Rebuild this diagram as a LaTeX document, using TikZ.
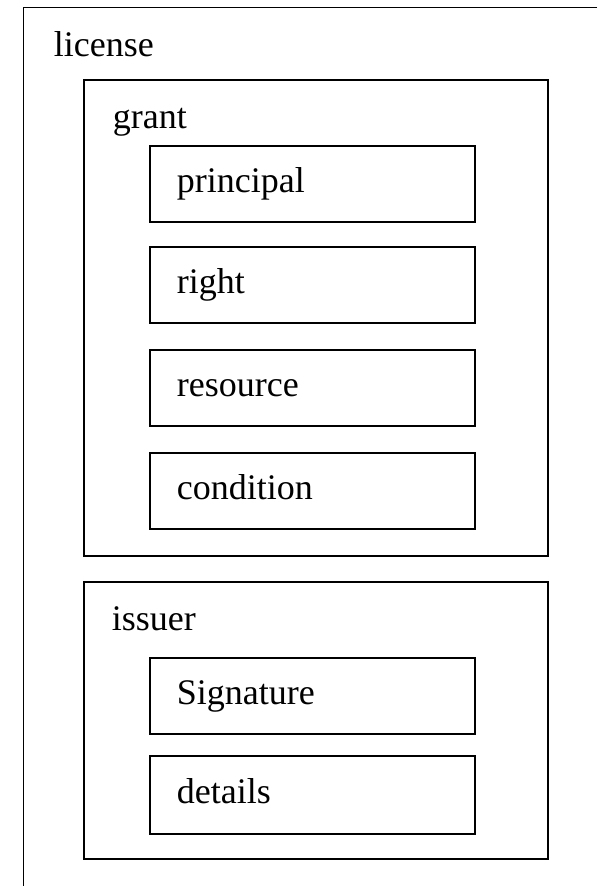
\documentclass[tikz,border=0pt]{standalone}
\usepackage{fontspec}
\setmainfont{Liberation Serif}

\tikzset{
    groupbox/.style={draw, anchor=north west, inner sep=0pt, minimum width=464pt},
    itembox/.style={draw, anchor=north west, inner xsep=27pt, inner ysep=0pt,
        text width=271pt, align=left, minimum height=76pt,
        execute at begin node={\rule[-12pt]{0pt}{42pt}}},
    tag/.style={anchor=base west, inner sep=0pt}
}

\begin{document}
\begin{tikzpicture}[x=1pt, y=-1pt, line width=1.6pt, font=\fontsize{36}{43}\selectfont]
    \useasboundingbox (0, 0) rectangle (597, 886);

    % draw outer license frame
    \draw (597, 7.5) -- (23.5, 7.5) -- (23.5, 886);
    \node[tag] (license) at (53, 56.5) {license};

    % draw grant group
    \node[groupbox, minimum height=476pt] (grant) at (83, 79) {};
    \node[tag] (grantlabel) at (112, 128) {grant};
    \node[itembox] (principal) at (149, 145) {principal};
    \node[itembox] (right) at (149, 246) {right};
    \node[itembox] (resource) at (149, 349) {resource};
    \node[itembox] (condition) at (149, 452) {condition};

    % draw issuer group
    \node[groupbox, minimum height=277pt] (issuer) at (83, 581) {};
    \node[tag] (issuerlabel) at (111, 630) {issuer};
    \node[itembox] (signature) at (149, 657) {Signature};
    \node[itembox, minimum height=78pt] (details) at (149, 755) {details};

\end{tikzpicture}
\end{document}
